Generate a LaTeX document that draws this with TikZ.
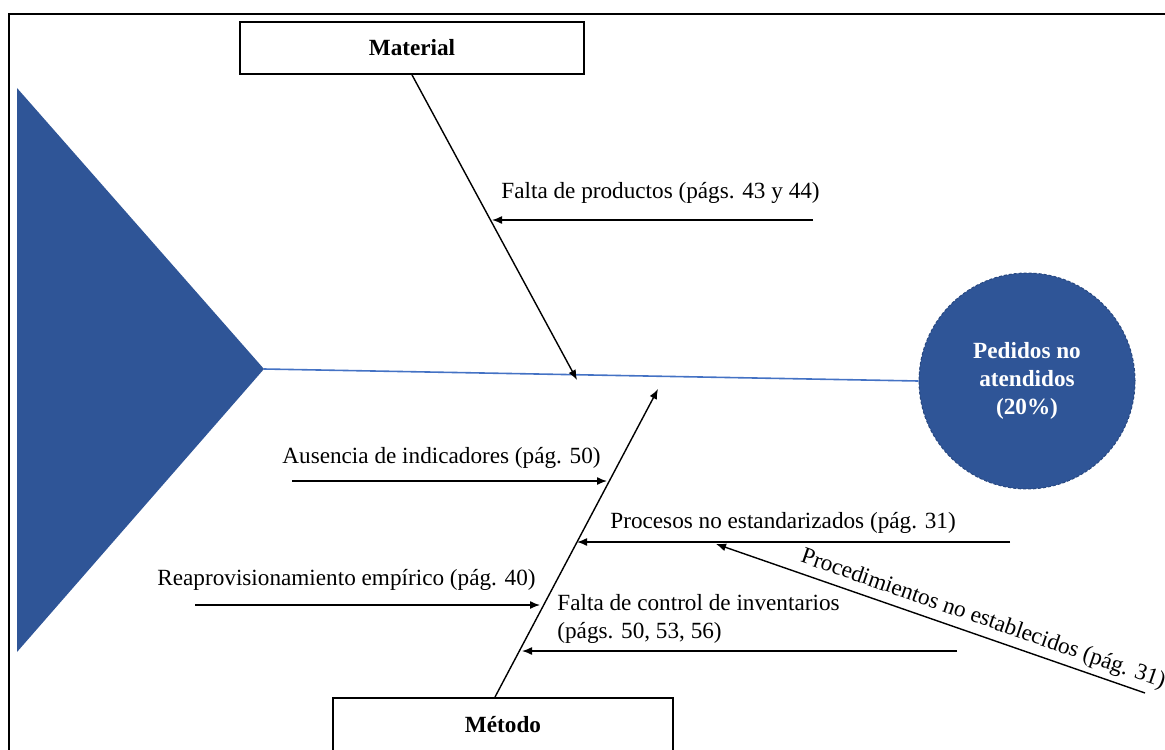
\documentclass[tikz,border=0pt]{standalone}
\usepackage{fontspec}
\setmainfont{Liberation Serif}
\usetikzlibrary{arrows.meta}
\definecolor{fbblue}{HTML}{2F5597}
\definecolor{spineblue}{HTML}{4472C4}
\newcommand\diafont{\fontsize{11.6}{14}\selectfont}
\begin{document}
\begin{tikzpicture}[x=0.5pt,y=-0.5pt,
  catbox/.style={draw, line width=0.9pt, fill=white, inner sep=0pt, font=\bfseries\diafont},
  lbl/.style={font=\diafont, inner sep=0pt, anchor=base west},
  arr/.style={-{Latex[length=5pt,width=4pt]}, line width=0.7pt},
  spine/.style={draw=spineblue, line width=0.8pt}]
\useasboundingbox (0,0) rectangle (1165,749);
\draw[line width=1pt] (9,14) rectangle (1200,800);
% tail
\path[fill=fbblue] (17,88) coordinate (t1) -- (264,369) coordinate (tip) -- (17,652) coordinate (t2) -- cycle;
% head
\node[circle, fill=fbblue, draw=fbblue!85!black, dash pattern=on 1.5pt off 1pt, line width=0.5pt,
      minimum size=108pt, inner sep=0pt, text=white, font=\bfseries\diafont, align=center] (head) at (1027,381) {Pedidos no\\atendidos\\(20\%)};
% spine
\draw[spine] (tip) -- (head.west);
% category boxes
\node[catbox, minimum width=172pt, minimum height=26pt] (mat) at (412,48) {Material};
\node[catbox, minimum width=170pt, minimum height=27pt, anchor=north] (met) at (503,697) {Método};
% bones
\coordinate (mtip) at (577,380);
\coordinate (btip) at (658,389);
\draw[arr] (mat.south) -- (mtip);
\draw[arr] ([xshift=-4pt]met.north) -- (btip);
% causes
\node[lbl] (c1) at (501,198) {Falta de productos (págs. 43 y 44)};
\coordinate (c1s) at (813,220); \coordinate (c1e) at (492,220);
\draw[arr] (c1s) -- (c1e);

\node[lbl] (c2) at (282,463) {Ausencia de indicadores (pág. 50)};
\coordinate (c2s) at (292,481); \coordinate (c2e) at (607,481);
\draw[arr] (c2s) -- (c2e);

\node[lbl] (c3) at (610,528) {Procesos no estandarizados (pág. 31)};
\coordinate (c3s) at (1010,542); \coordinate (c3e) at (577,542);
\draw[arr] (c3s) -- (c3e);

\node[lbl] (c4) at (157,585) {Reaprovisionamiento empírico (pág. 40)};
\coordinate (c4s) at (195,605); \coordinate (c4e) at (540,605);
\draw[arr] (c4s) -- (c4e);

\node[lbl, align=left] (c5) at (557,638) {Falta de control de inventarios\\(págs. 50, 53, 56)};
\coordinate (c5s) at (957,651); \coordinate (c5e) at (522,651);
\draw[arr] (c5s) -- (c5e);

\coordinate (c6s) at (1145,693); \coordinate (c6e) at (716,544);
\draw[arr] (c6s) -- node[pos=0.39, sloped, above, font=\diafont, inner sep=2.5pt] (c6) {Procedimientos no establecidos (pág. 31)} (c6e);
\end{tikzpicture}
\end{document}
